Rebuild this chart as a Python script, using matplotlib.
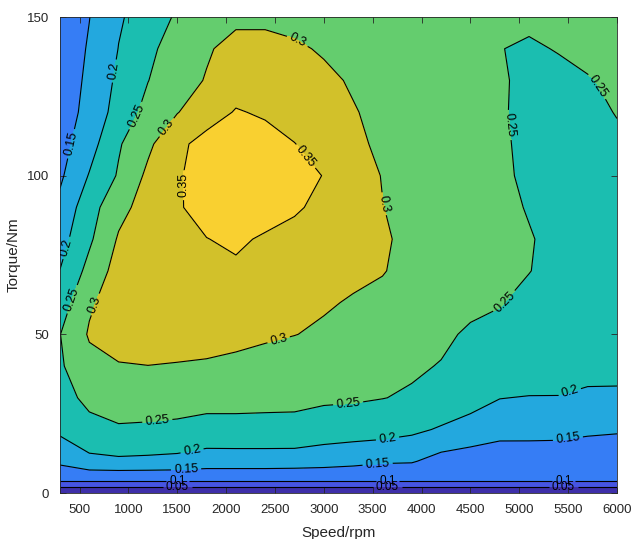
import numpy as np
import matplotlib
matplotlib.use("Agg")
import matplotlib.pyplot as plt

plt.rcParams['font.family'] = ['Liberation Sans', 'DejaVu Sans']

# Speed grid (rpm) and torque grid (Nm)
speed = [300, 600, 900, 1200, 1500, 1800, 2100, 2400, 2700, 3000,
         3300, 3600, 3900, 4200, 4500, 4800, 5100, 5400, 5700, 6000]
torque = [0, 4, 10, 20, 30, 40, 50, 60, 70, 80, 90, 100, 110, 120, 130, 140, 150]

# Efficiency rows, one per torque value (columns follow `speed`)
eff_T0 = [0.0] * 20
eff_T4 = [0.105] * 20
eff_T10 = [0.161, 0.188, 0.192, 0.19, 0.187, 0.178, 0.178, 0.178, 0.176, 0.172, 0.165, 0.156, 0.154, 0.132, 0.127, 0.111, 0.114, 0.111, 0.12, 0.118]
eff_T20 = [0.21, 0.235, 0.245, 0.243, 0.24, 0.232, 0.233, 0.233, 0.235, 0.225, 0.222, 0.22, 0.21, 0.195, 0.178, 0.172, 0.17, 0.17, 0.158, 0.155]
eff_T30 = [0.232, 0.262, 0.272, 0.272, 0.27, 0.268, 0.267, 0.265, 0.262, 0.258, 0.256, 0.251, 0.245, 0.235, 0.222, 0.201, 0.198, 0.198, 0.188, 0.187]
eff_T40 = [0.244, 0.285, 0.297, 0.2995, 0.297, 0.294, 0.288, 0.28, 0.275, 0.27, 0.266, 0.262, 0.256, 0.248, 0.24, 0.233, 0.228, 0.225, 0.222, 0.222]
eff_T50 = [0.249, 0.305, 0.32, 0.322, 0.322, 0.32, 0.315, 0.308, 0.301, 0.293, 0.285, 0.278, 0.268, 0.258, 0.244, 0.24, 0.232, 0.228, 0.225, 0.225]
eff_T60 = [0.225, 0.293, 0.325, 0.33, 0.332, 0.333, 0.332, 0.327, 0.317, 0.305, 0.296, 0.29, 0.28, 0.27, 0.26, 0.252, 0.24, 0.232, 0.228, 0.228]
eff_T70 = [0.201, 0.265, 0.32, 0.33, 0.335, 0.34, 0.342, 0.338, 0.33, 0.32, 0.31, 0.302, 0.288, 0.28, 0.27, 0.262, 0.251, 0.238, 0.232, 0.232]
eff_T80 = [0.181, 0.242, 0.305, 0.325, 0.335, 0.349, 0.358, 0.344, 0.335, 0.325, 0.315, 0.305, 0.29, 0.28, 0.272, 0.265, 0.253, 0.238, 0.23, 0.23]
eff_T90 = [0.162, 0.23, 0.285, 0.32, 0.345, 0.368, 0.378, 0.372, 0.356, 0.338, 0.32, 0.301, 0.285, 0.275, 0.268, 0.262, 0.247, 0.23, 0.225, 0.23]
eff_T100 = [0.142, 0.203, 0.255, 0.31, 0.345, 0.37, 0.38, 0.375, 0.362, 0.349, 0.325, 0.298, 0.283, 0.272, 0.265, 0.26, 0.24, 0.225, 0.226, 0.235]
eff_T110 = [0.132, 0.18, 0.245, 0.29, 0.34, 0.365, 0.372, 0.365, 0.351, 0.33, 0.308, 0.293, 0.28, 0.27, 0.263, 0.258, 0.238, 0.228, 0.232, 0.242]
eff_T120 = [0.125, 0.165, 0.22, 0.265, 0.298, 0.33, 0.353, 0.345, 0.33, 0.315, 0.303, 0.288, 0.275, 0.268, 0.262, 0.255, 0.238, 0.232, 0.238, 0.252]
eff_T130 = [0.12, 0.16, 0.21, 0.249, 0.28, 0.303, 0.33, 0.33, 0.32, 0.31, 0.295, 0.28, 0.27, 0.265, 0.26, 0.255, 0.24, 0.24, 0.248, 0.256]
eff_T140 = [0.115, 0.155, 0.201, 0.24, 0.27, 0.295, 0.315, 0.315, 0.307, 0.295, 0.285, 0.275, 0.27, 0.265, 0.26, 0.251, 0.245, 0.252, 0.258, 0.262]
eff_T150 = [0.11, 0.149, 0.195, 0.22, 0.257, 0.275, 0.29, 0.29, 0.285, 0.28, 0.275, 0.27, 0.27, 0.27, 0.265, 0.26, 0.258, 0.258, 0.26, 0.262]

levels = [0.0, 0.05, 0.1, 0.15, 0.2, 0.25, 0.3, 0.35, 0.4]
line_levels = [0.05, 0.1, 0.15, 0.2, 0.25, 0.3, 0.35]
x_ticks = [500, 1000, 1500, 2000, 2500, 3000, 3500, 4000, 4500, 5000, 5500, 6000]
y_ticks = [0, 50, 100, 150]

Z = np.array([eff_T0, eff_T4, eff_T10, eff_T20, eff_T30, eff_T40, eff_T50, eff_T60,
              eff_T70, eff_T80, eff_T90, eff_T100, eff_T110, eff_T120, eff_T130,
              eff_T140, eff_T150])
X, Y = np.meshgrid(speed, torque)

band_colors = ['#3E2FA9', '#4655E2', '#367DF5', '#23A8DE', '#1BBEB0',
               '#64CD6E', '#D2C12A', '#F9D030']

fig = plt.figure(figsize=(6.31, 5.39), dpi=100)
ax = fig.add_axes([60/631, 46/539, 557/631, 476/539])

ax.contourf(X, Y, Z, levels=levels, colors=band_colors)

label_pos = {
    0.05: [(1500, 1.2), (3650, 1.2), (5450, 1.2)],
    0.1: [(1500, 3.3), (3650, 3.3), (5450, 3.3)],
    0.15: [(420, 110), (1590, 7.5), (3550, 9.3), (5500, 16.6)],
    0.2: [(850, 133), (390, 77), (1650, 13.5), (3650, 17.5), (5520, 31.5)],
    0.25: [(1070, 119), (430, 61), (1300, 21.5), (3250, 27.7), (4860, 60), (4910, 116), (5790, 128)],
    0.3: [(1400, 115), (700, 59), (2540, 48), (2740, 143), (3590, 91)],
    0.35: [(1510, 97), (2810, 106)],
}
label_size = {0.05: 8.5, 0.1: 8.5}
for lev in line_levels:
    cs = ax.contour(X, Y, Z, levels=[lev], colors='black', linewidths=0.8)
    ax.clabel(cs, manual=label_pos[lev], inline=True, inline_spacing=3,
              fontsize=label_size.get(lev, 9), fmt=lambda v: f"{v:g}",
              colors='black')

ax.set_xlim(300, 6000)
ax.set_ylim(0, 150)
ax.set_xticks(x_ticks)
ax.set_yticks(y_ticks)
ax.tick_params(direction='in', top=True, right=True, length=4, width=0.6,
               labelsize=9.5, colors='#262626', pad=8)
for sp in ax.spines.values():
    sp.set_linewidth(0.6)
    sp.set_color('#262626')
ax.set_xlabel('Speed/rpm', fontsize=11, color='#262626', labelpad=7)
ax.set_ylabel('Torque/Nm', fontsize=11, color='#262626', labelpad=4)

fig.savefig('out.png', dpi=100)
